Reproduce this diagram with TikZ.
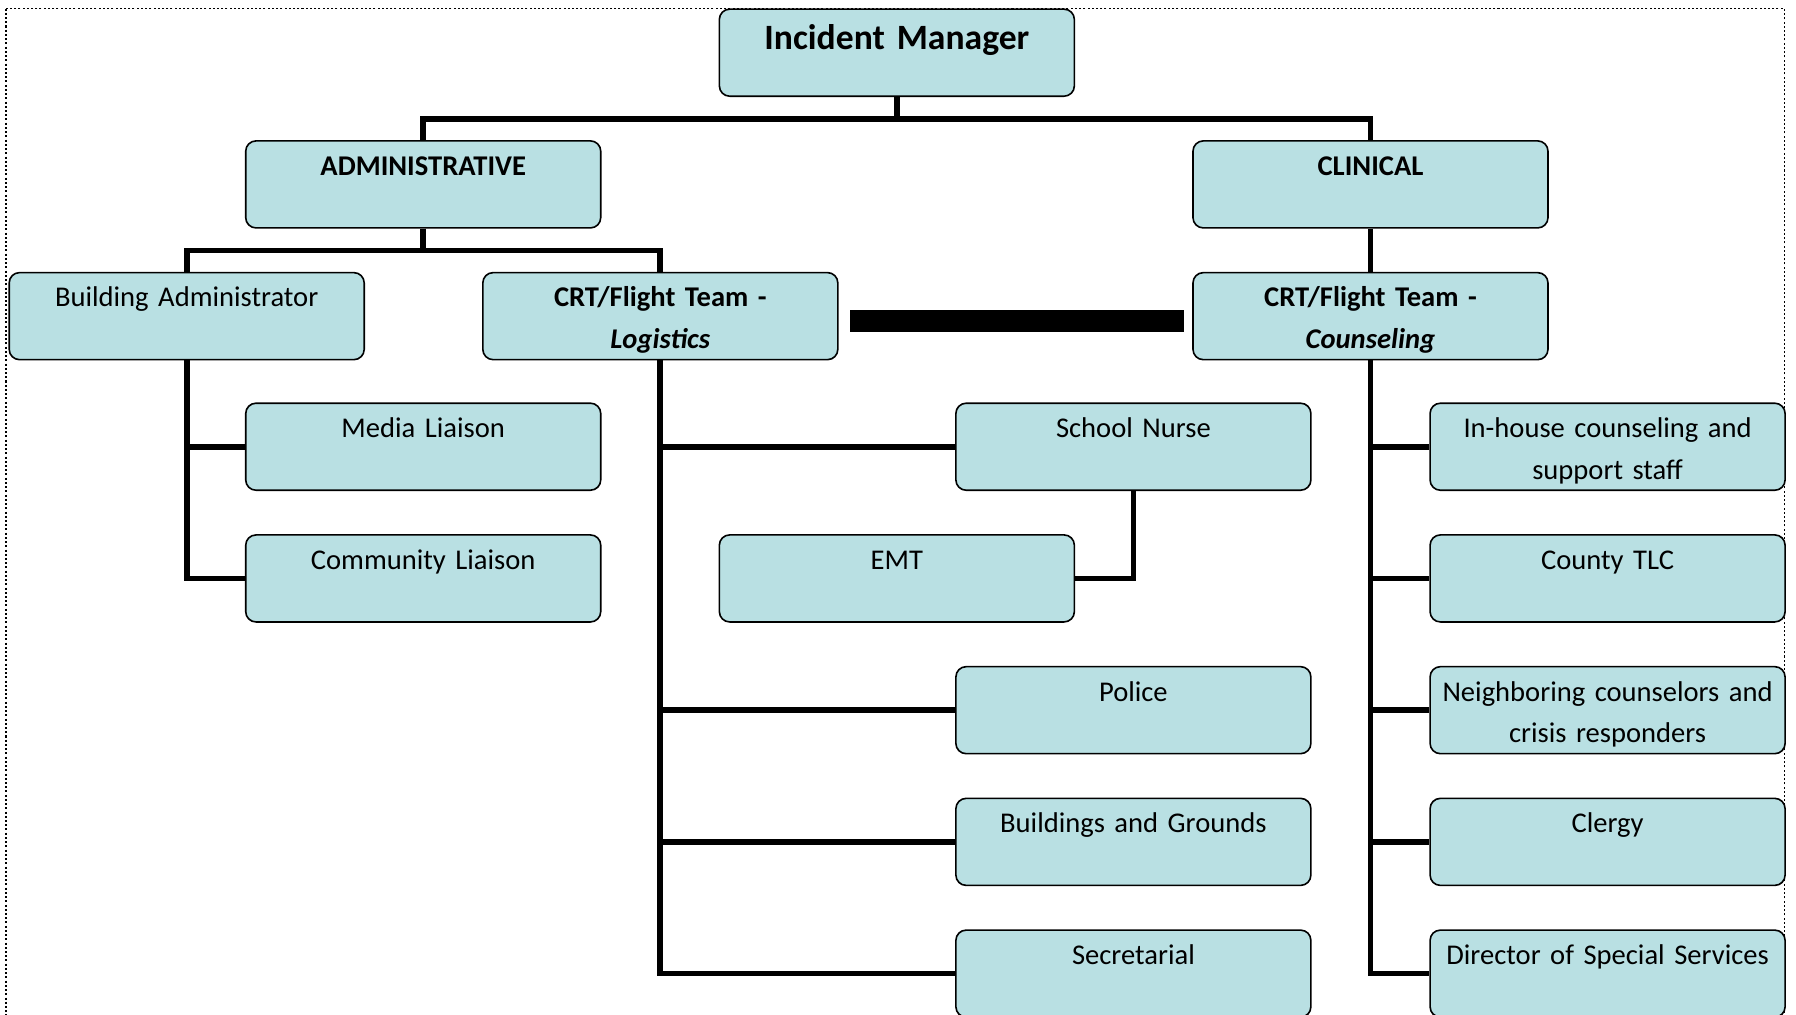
\documentclass[tikz,border=0pt]{standalone}
\usepackage{fontspec}
\setmainfont{Carlito}
\usetikzlibrary{calc}
\definecolor{boxfill}{RGB}{185,224,227}

\begin{document}
\begin{tikzpicture}[x={(0.02cm,0)}, y={(0,-0.02cm)},
	box/.style={draw=black, line width=0.8pt, fill=boxfill, rounded corners=0.18cm, inner xsep=0.1cm, inner ysep=0pt, text width=6cm, align=center, text height=0.6cm, text depth=0.92cm, font=\fontsize{14.2}{20.8}\selectfont},
	headbox/.style={box, font=\fontsize{14.2}{20.8}\selectfont\bfseries},
	topbox/.style={box, text height=0.7cm, text depth=0.82cm, font=\fontsize{17.7}{21}\selectfont\bfseries},
	conn/.style={draw=black, line width=0.1cm},
	bar/.style={draw=black, line width=0.38cm}]
	\path[use as bounding box, clip] (0,0) rectangle (1568,886);
	\draw[draw=black, line width=0.9pt, dash pattern=on 1pt off 1.1pt] (5,7.5) rectangle (1558,920);
	\node[topbox] (im) at (783,46) {Incident Manager};
	\node[headbox] (admin) at (369.5,161) {ADMINISTRATIVE};
	\node[headbox] (clin) at (1196.5,161) {CLINICAL};
	\node[box] (ba) at (163,276) {Building Administrator};
	\node[headbox] (logi) at (576.5,276) {CRT/Flight Team -\\\textit{Logistics}};
	\node[headbox] (couns) at (1196.5,276) {CRT/Flight Team -\\\textit{Counseling}};
	\node[box] (media) at (369.5,390) {Media Liaison};
	\node[box] (comm) at (369.5,505) {Community Liaison};
	\node[box] (nurse) at (989.5,390) {School Nurse};
	\node[box] (emt) at (783,505) {EMT};
	\node[box] (police) at (989.5,620) {Police};
	\node[box] (bldg) at (989.5,735) {Buildings and Grounds};
	\node[box] (secr) at (989.5,850) {Secretarial};
	\node[box] (inh) at (1403.5,390) {In-house counseling and\\support staff};
	\node[box] (county) at (1403.5,505) {County TLC};
	\node[box] (neigh) at (1403.5,620) {Neighboring counselors and\\crisis responders};
	\node[box] (clergy) at (1403.5,735) {Clergy};
	\node[box] (dir) at (1403.5,850) {Director of Special Services};
	\draw[conn] (im.south) -- ++(0,19) -| (admin.north);
	\draw[conn] (im.south) -- ++(0,19) -| (clin.north);
	\draw[conn] (admin.south) -- ++(0,19) -| (ba.north);
	\draw[conn] (admin.south) -- ++(0,19) -| (logi.north);
	\draw[conn] (clin.south) -- (couns.north);
	\draw[conn] (ba.south) |- (media.west);
	\draw[conn] (ba.south) |- (comm.west);
	\draw[conn] (logi.south) |- (nurse.west);
	\draw[conn] (logi.south) |- (police.west);
	\draw[conn] (logi.south) |- (bldg.west);
	\draw[conn] (logi.south) |- (secr.west);
	\draw[conn] (nurse.south) |- (emt.east);
	\draw[conn] (couns.south) |- (inh.west);
	\draw[conn] (couns.south) |- (county.west);
	\draw[conn] (couns.south) |- (neigh.west);
	\draw[conn] (couns.south) |- (clergy.west);
	\draw[conn] (couns.south) |- (dir.west);
	\draw[bar] ($(logi.east)+(10,4.5)$) -- ($(couns.west)+(-7,4.5)$);
\end{tikzpicture}
\end{document}
